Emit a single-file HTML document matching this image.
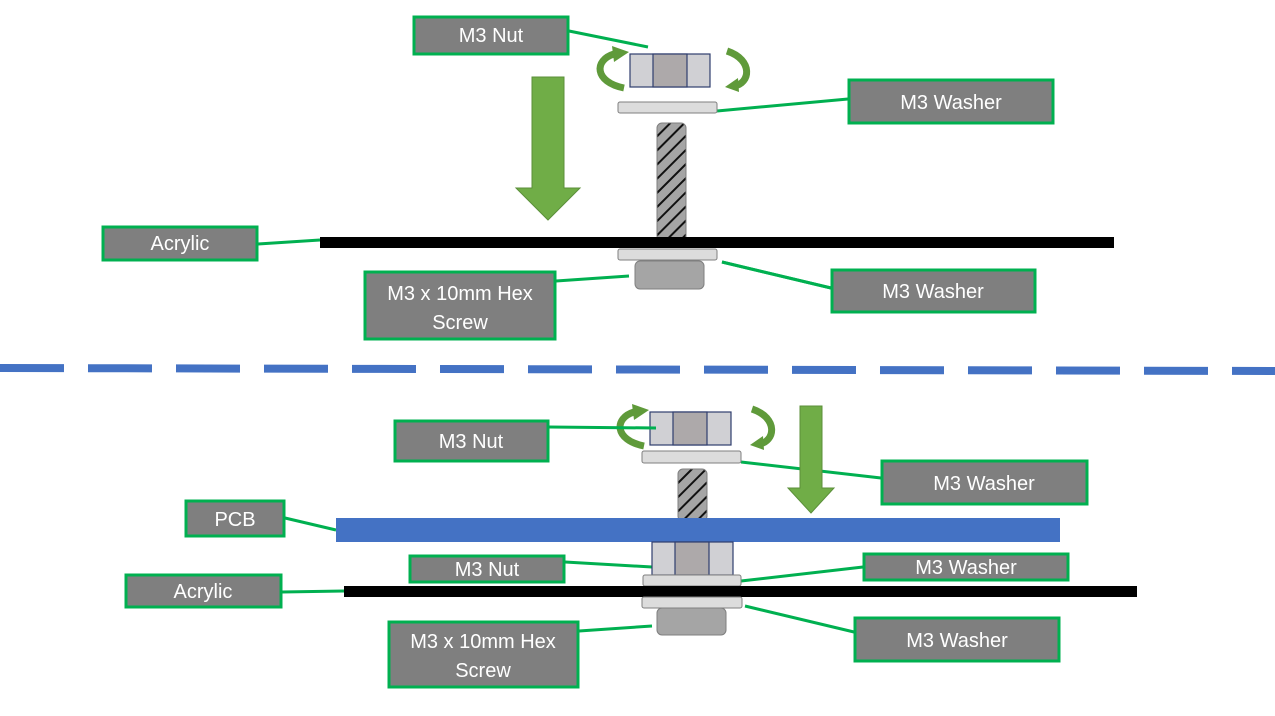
<!DOCTYPE html>
<html><head><meta charset="utf-8"><style>
html,body{margin:0;padding:0;background:#fff;}
svg{display:block;}
text{font-family:"Liberation Sans",sans-serif;font-size:20px;fill:#fff;text-anchor:middle;}
</style></head><body>
<svg width="1275" height="716" viewBox="0 0 1275 716" xmlns="http://www.w3.org/2000/svg">
<defs>
<pattern id="h" patternUnits="userSpaceOnUse" width="10" height="10" patternTransform="rotate(45)">
<rect width="10" height="10" fill="#a5a5a5"/><rect x="0" y="0" width="2" height="10" fill="#111"/>
</pattern>
</defs>
<!-- connector lines -->
<g stroke="#00b050" stroke-width="3">
<line x1="569" y1="31" x2="648" y2="47"/>
<line x1="717" y1="111" x2="848" y2="99"/>
<line x1="258" y1="244" x2="320" y2="240"/>
<line x1="556" y1="281" x2="629" y2="276"/>
<line x1="722" y1="262" x2="831" y2="288"/>
<line x1="722" y1="262" x2="831" y2="288"/>
<line x1="741" y1="462" x2="881" y2="478"/>
<line x1="285" y1="518" x2="336" y2="530"/>
<line x1="565" y1="562" x2="652" y2="567"/>
<line x1="741" y1="581" x2="863" y2="567"/>
<line x1="282" y1="592" x2="344" y2="591"/>
<line x1="579" y1="631" x2="652" y2="626"/>
<line x1="745" y1="606" x2="854" y2="632"/>
</g>
<!-- TOP -->
<polygon points="532,77 564,77 564,188 580,188 548,220 516,188 532,188" fill="#70ad47" stroke="#5b8f3a" stroke-width="1"/>
<g fill="none" stroke="#5f9a3a" stroke-width="7">
<path d="M624,88 C594,82 594,60 614,54"/>
<path d="M727,51 C754,60 750,84 734,86"/>
<path d="M644,446 C614,440 614,418 634,412"/>
<path d="M752,409 C779,418 775,442 759,444"/>
</g>
<polygon points="612,46 629,52 614,62" fill="#5f9a3a"/>
<polygon points="738,78 725,87 739,92" fill="#5f9a3a"/>
<polygon points="632,404 649,410 634,420" fill="#5f9a3a"/>
<polygon points="763,436 750,445 764,450" fill="#5f9a3a"/>
<rect x="630" y="54" width="80" height="33" fill="#d0d0d4" stroke="#2f3e6e" stroke-width="1.2"/>
<rect x="653" y="54" width="34" height="33" fill="#ada9aa" stroke="#2f3e6e" stroke-width="1.2"/>
<rect x="618" y="102" width="99" height="11" rx="2" fill="#dcdcdc" stroke="#7f7f7f"/>
<rect x="657" y="123" width="29" height="118" rx="5" fill="url(#h)" stroke="#7f7f7f"/>
<rect x="320" y="237" width="794" height="11" fill="#000"/>
<rect x="618" y="249" width="99" height="11" rx="2" fill="#dcdcdc" stroke="#7f7f7f"/>
<rect x="635" y="261" width="69" height="28" rx="5" fill="#a5a5a5" stroke="#7f7f7f"/>
<!-- dashed -->
<line x1="0" y1="368" x2="1275" y2="371" stroke="#4472c4" stroke-width="8" stroke-dasharray="64 24"/>
<!-- BOTTOM -->
<polygon points="800,406 822,406 822,488 834,488 811,513 788,488 800,488" fill="#70ad47" stroke="#5b8f3a" stroke-width="1"/>
<rect x="650" y="412" width="81" height="33" fill="#d0d0d4" stroke="#2f3e6e" stroke-width="1.2"/>
<rect x="673" y="412" width="34" height="33" fill="#ada9aa" stroke="#2f3e6e" stroke-width="1.2"/>
<line x1="549" y1="427" x2="656" y2="428" stroke="#00b050" stroke-width="3"/>
<rect x="642" y="451" width="99" height="12" rx="2" fill="#dcdcdc" stroke="#7f7f7f"/>
<rect x="678" y="469" width="29" height="52" rx="5" fill="url(#h)" stroke="#7f7f7f"/>
<rect x="336" y="518" width="724" height="24" fill="#4472c4"/>
<rect x="652" y="542" width="81" height="33" fill="#d0d0d4" stroke="#2f3e6e" stroke-width="1.2"/>
<rect x="675" y="542" width="34" height="33" fill="#ada9aa" stroke="#2f3e6e" stroke-width="1.2"/>
<rect x="643" y="575" width="98" height="11" rx="2" fill="#dcdcdc" stroke="#7f7f7f"/>
<rect x="344" y="586" width="793" height="11" fill="#000"/>
<rect x="642" y="597" width="100" height="11" rx="2" fill="#dcdcdc" stroke="#7f7f7f"/>
<rect x="657" y="608" width="69" height="27" rx="5" fill="#a5a5a5" stroke="#7f7f7f"/>
<!-- labels -->
<g fill="#7f7f7f" stroke="#00b050" stroke-width="3">
<rect x="414" y="17" width="154" height="37"/>
<rect x="849" y="80" width="204" height="43"/>
<rect x="103" y="227" width="154" height="33"/>
<rect x="365" y="272" width="190" height="67"/>
<rect x="832" y="270" width="203" height="42"/>
<rect x="395" y="421" width="153" height="40"/>
<rect x="882" y="461" width="205" height="43"/>
<rect x="186" y="501" width="98" height="35"/>
<rect x="410" y="556" width="154" height="26"/>
<rect x="864" y="554" width="204" height="26"/>
<rect x="126" y="575" width="155" height="32"/>
<rect x="389" y="622" width="189" height="65"/>
<rect x="855" y="618" width="204" height="43"/>
</g>
<text x="491" y="42">M3 Nut</text>
<text x="951" y="109">M3 Washer</text>
<text x="180" y="250">Acrylic</text>
<text x="460" y="300">M3 x 10mm Hex</text>
<text x="460" y="329">Screw</text>
<text x="933" y="298">M3 Washer</text>
<text x="471" y="448">M3 Nut</text>
<text x="984" y="490">M3 Washer</text>
<text x="235" y="526">PCB</text>
<text x="487" y="576">M3 Nut</text>
<text x="966" y="574">M3 Washer</text>
<text x="203" y="598">Acrylic</text>
<text x="483" y="648">M3 x 10mm Hex</text>
<text x="483" y="677">Screw</text>
<text x="957" y="647">M3 Washer</text>
</svg>
</body></html>
